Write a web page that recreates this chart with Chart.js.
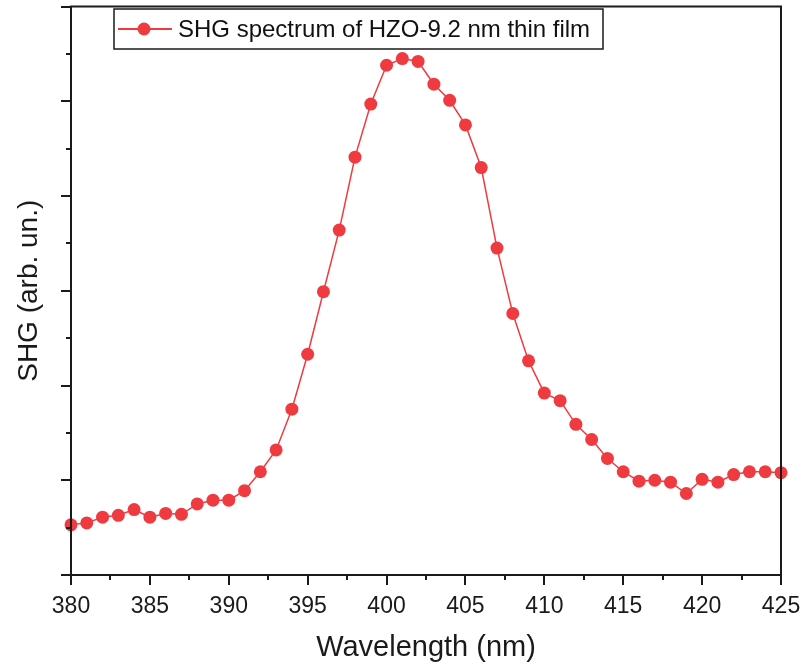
<!DOCTYPE html>
<html>
<head>
<meta charset="utf-8">
<script src="https://cdn.jsdelivr.net/npm/chart.js@4.4.1/dist/chart.umd.min.js"></script>
<style>
  html, body { margin: 0; padding: 0; background: #fff; }
  #wrap { position: relative; width: 808px; height: 669px; }
</style>
</head>
<body>
<div id="wrap"><canvas id="shgChart" width="808" height="669"></canvas></div>
<script>
// wavelength (nm) and SHG intensity (arb. un.)
const wavelengths = [380, 381, 382, 383, 384, 385, 386, 387, 388, 389, 390, 391, 392, 393, 394, 395,
  396, 397, 398, 399, 400, 401, 402, 403, 404, 405, 406, 407, 408, 409, 410, 411, 412, 413, 414,
  415, 416, 417, 418, 419, 420, 421, 422, 423, 424, 425];
const shgValues = [0.53, 0.55, 0.61, 0.63, 0.69, 0.61, 0.65, 0.64, 0.75, 0.79, 0.79, 0.89, 1.09, 1.32,
  1.75, 2.33, 2.99, 3.64, 4.41, 4.97, 5.38, 5.45, 5.42, 5.18, 5.01, 4.75, 4.30, 3.45, 2.76, 2.26,
  1.92, 1.84, 1.59, 1.43, 1.23, 1.09, 0.99, 1.00, 0.98, 0.86, 1.01, 0.98, 1.06, 1.09, 1.09, 1.08];
const legendLabel = 'SHG spectrum of HZO-9.2 nm thin film';

const red = '#ef3b40';
const fontFamily = '"Liberation Sans", Arial, sans-serif';

// frame, outward tick marks and the legend box (Origin style)
const originFrame = {
  id: 'originFrame',
  afterDraw(chart) {
    const ctx = chart.ctx;
    const a = chart.chartArea;
    const xs = chart.scales.x, ys = chart.scales.y;
    ctx.save();
    ctx.strokeStyle = '#1a1a1a';
    ctx.lineWidth = 2;
    ctx.strokeRect(a.left, a.top, a.right - a.left, a.bottom - a.top);

    ctx.beginPath();
    for (let v = 380; v <= 425.01; v += 2.5) {
      const px = Math.round(xs.getPixelForValue(v));
      const len = (v % 5 === 0) ? 10 : 5;
      ctx.moveTo(px, a.bottom);
      ctx.lineTo(px, a.bottom + len);
    }
    for (let v = 0; v <= 6.01; v += 0.5) {
      const py = Math.round(ys.getPixelForValue(v));
      const len = (v % 1 === 0) ? 10 : 5;
      ctx.moveTo(a.left, py);
      ctx.lineTo(a.left - len, py);
    }
    ctx.stroke();

    // legend
    const lx = 114, ly = 9, lw = 489, lh = 40;
    ctx.fillStyle = '#fff';
    ctx.fillRect(lx, ly, lw, lh);
    ctx.lineWidth = 1.5;
    ctx.strokeStyle = '#1a1a1a';
    ctx.strokeRect(lx, ly, lw, lh);
    const cy = ly + lh / 2;
    ctx.strokeStyle = red;
    ctx.lineWidth = 2;
    ctx.beginPath();
    ctx.moveTo(lx + 4, cy);
    ctx.lineTo(lx + 58, cy);
    ctx.stroke();
    ctx.fillStyle = red;
    ctx.beginPath();
    ctx.arc(lx + 30, cy, 6.5, 0, Math.PI * 2);
    ctx.fill();
    ctx.fillStyle = '#111';
    ctx.font = '24px ' + fontFamily;
    ctx.textBaseline = 'middle';
    ctx.fillText(legendLabel, lx + 64, cy + 1);
    ctx.restore();
  }
};

const ctxShg = document.getElementById('shgChart').getContext('2d');

new Chart(ctxShg, {
  type: 'line',
  data: {
    labels: wavelengths,
    datasets: [{
      label: legendLabel,
      data: wavelengths.map((w, i) => ({ x: w, y: shgValues[i] })),
      borderColor: red,
      backgroundColor: red,
      borderWidth: 1.5,
      pointRadius: 6.5,
      pointHoverRadius: 6.5,
      pointBorderWidth: 0,
      pointBackgroundColor: red,
      tension: 0,
      clip: 8
    }]
  },
  options: {
    responsive: false,
    animation: false,
    layout: { padding: { left: 0, right: 27, top: 6, bottom: 0 } },
    plugins: {
      legend: { display: false },
      tooltip: { enabled: false }
    },
    scales: {
      x: {
        type: 'linear',
        min: 380,
        max: 425,
        afterFit: (s) => { s.height = 94; s.paddingLeft = 0; s.paddingRight = 0; },
        grid: { display: false, drawTicks: false },
        border: { display: false },
        ticks: {
          stepSize: 5,
          padding: 18,
          color: '#1a1a1a',
          font: { size: 23, family: fontFamily }
        },
        title: {
          display: true,
          text: 'Wavelength (nm)',
          color: '#1a1a1a',
          font: { size: 29, family: fontFamily },
          padding: { top: 0, bottom: 4 }
        }
      },
      y: {
        type: 'linear',
        min: 0,
        max: 6,
        afterFit: (s) => { s.width = 71; s.paddingTop = 0; s.paddingBottom = 0; },
        grid: { display: false, drawTicks: false },
        border: { display: false },
        ticks: { display: false, stepSize: 0.5 },
        title: {
          display: true,
          text: 'SHG (arb. un.)',
          color: '#1a1a1a',
          font: { size: 28, family: fontFamily },
          padding: { top: 12, bottom: 0 }
        }
      }
    }
  },
  plugins: [originFrame]
});
</script>
</body>
</html>
